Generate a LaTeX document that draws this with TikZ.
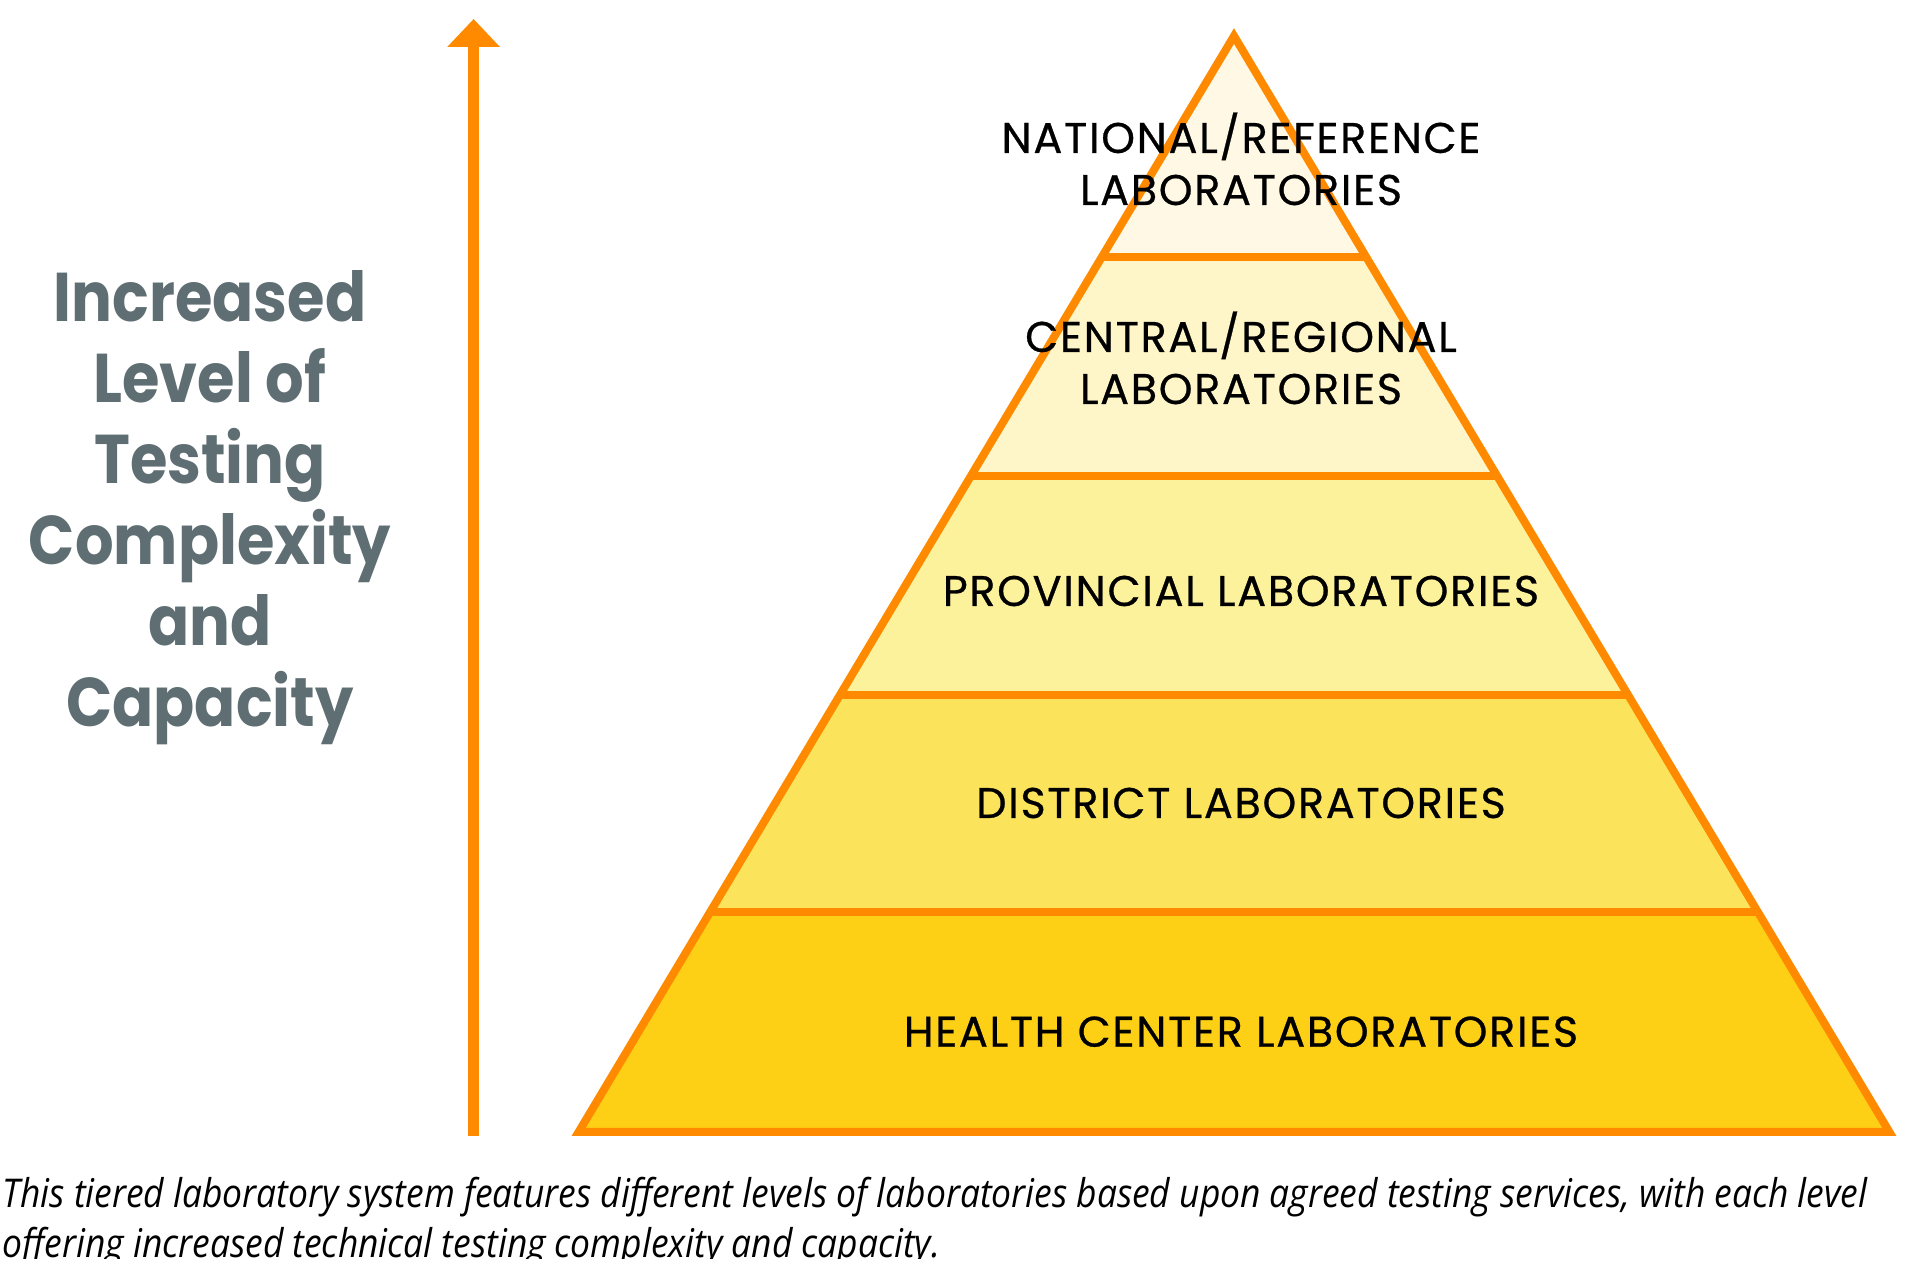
\documentclass[tikz,border=0pt]{standalone}
\usepackage{fontspec}
\usetikzlibrary{arrows.meta}
\newfontfamily\labfont{Poppins}[LetterSpace=4,FakeBold=0.6]
\newfontfamily\sidefont{Poppins}[FakeStretch=0.88]
\newfontfamily\capfont{Open Sans}[FakeStretch=0.893]
\definecolor{tierorange}{HTML}{FF8A00}
\definecolor{tierA}{HTML}{FEF8E4}
\definecolor{tierB}{HTML}{FEF5C9}
\definecolor{tierC}{HTML}{FDF29C}
\definecolor{tierD}{HTML}{FBE45B}
\definecolor{tierE}{HTML}{FDD016}
\definecolor{sidegray}{HTML}{5E6E73}
\tikzset{
  tierlabel/.style={inner sep=0pt, align=center, font=\labfont\fontsize{12.2}{14.8}\selectfont, text=black},
  sidelabel/.style={inner sep=0pt, align=center, font=\sidefont\bfseries\fontsize{19.6}{23.05}\selectfont, text=sidegray},
  caption/.style={inner sep=0pt, align=left, font=\capfont\itshape\fontsize{11.27}{14.25}\selectfont, text=black},
  edge/.style={draw=tierorange, line width=0.08cm, line join=miter},
}
\begin{document}
\begin{tikzpicture}[x=0.01cm, y=-0.01cm]
\useasboundingbox (0,0) rectangle (1920,1280);
% pyramid corner coordinates
\coordinate (apex) at (1234,36);
\coordinate (l1) at (1101.8,257); \coordinate (r1) at (1366.2,257);
\coordinate (l2) at (970.9,476);  \coordinate (r2) at (1497.1,476);
\coordinate (l3) at (839.9,695);  \coordinate (r3) at (1628.1,695);
\coordinate (l4) at (710.2,912);  \coordinate (r4) at (1757.8,912);
\coordinate (l5) at (578.6,1132); \coordinate (r5) at (1889.4,1132);
% tier fills
\fill[tierA] (apex) -- (r1) -- (l1) -- cycle;
\fill[tierB] (l1) -- (r1) -- (r2) -- (l2) -- cycle;
\fill[tierC] (l2) -- (r2) -- (r3) -- (l3) -- cycle;
\fill[tierD] (l3) -- (r3) -- (r4) -- (l4) -- cycle;
\fill[tierE] (l4) -- (r4) -- (r5) -- (l5) -- cycle;
% outline and dividers
\draw[edge] (apex) -- (r5) -- (l5) -- cycle;
\draw[edge] (l1) -- (r1);
\draw[edge] (l2) -- (r2);
\draw[edge] (l3) -- (r3);
\draw[edge] (l4) -- (r4);
% labels (anchor=base is the baseline of the last line)
\node[tierlabel, anchor=base] (national) at (1241,205) {NATIONAL/REFERENCE\\LABORATORIES};
\node[tierlabel, anchor=base] (central) at (1241,404) {CENTRAL/REGIONAL\\LABORATORIES};
\node[tierlabel, anchor=base] (provincial) at (1241,606) {PROVINCIAL LABORATORIES};
\node[tierlabel, anchor=base] (district) at (1241,818) {DISTRICT LABORATORIES};
\node[tierlabel, anchor=base] (health) at (1241,1046.7) {HEALTH CENTER LABORATORIES};
% arrow
\coordinate (arrowfoot) at (473.6,1136);
\coordinate (arrowtip) at (473.6,19);
\draw[draw=tierorange, line width=0.107cm, -{Triangle[width=0.51cm,length=0.28cm]}, fill=tierorange] (arrowfoot) -- (arrowtip);
% side text
\node[sidelabel, anchor=base] (side) at (210,727) {Increased\\Level of\\Testing\\Complexity\\and\\Capacity};
% caption (its second line is cut off just below the baseline, as in the reference)
\begin{scope}
\clip (0,0) rectangle (1920,1259);
\node[caption, anchor=base west] (cap) at (2,1258) {This tiered laboratory system features different levels of laboratories based upon agreed testing services, with each level\\offering increased technical testing complexity and capacity.};
\end{scope}
\end{tikzpicture}
\end{document}
